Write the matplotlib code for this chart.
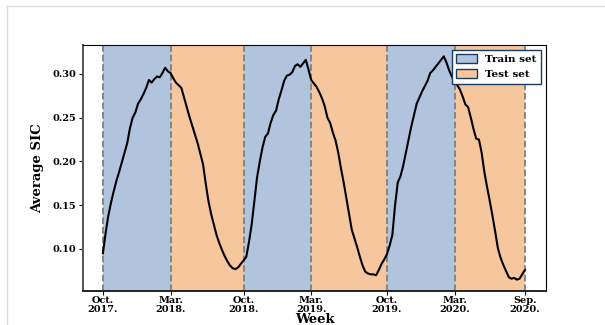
import matplotlib
matplotlib.use("Agg")
import matplotlib.pyplot as plt
from matplotlib.patches import Patch
from matplotlib.lines import Line2D

# Weekly average sea ice concentration, Oct. 2017 -> Sep. 2020
sic = [
    0.095, 0.118, 0.138, 0.153, 0.166, 0.178, 0.188, 0.199, 0.210, 0.221,
    0.238, 0.250, 0.256, 0.266, 0.271, 0.277, 0.284, 0.293, 0.290, 0.294,
    0.297, 0.296, 0.301, 0.307, 0.303, 0.301, 0.295, 0.290, 0.287, 0.284,
    0.273, 0.262, 0.251, 0.241, 0.231, 0.221, 0.209, 0.197, 0.175, 0.155,
    0.140, 0.128, 0.116, 0.107, 0.099, 0.092, 0.086, 0.081, 0.078, 0.077,
    0.079, 0.083, 0.087, 0.091, 0.108, 0.128, 0.155, 0.182, 0.200, 0.216,
    0.228, 0.232, 0.244, 0.253, 0.258, 0.271, 0.281, 0.292, 0.298, 0.299,
    0.302, 0.309, 0.311, 0.308, 0.312, 0.316, 0.305, 0.293, 0.289, 0.285,
    0.279, 0.272, 0.263, 0.250, 0.244, 0.233, 0.224, 0.210, 0.192, 0.176,
    0.158, 0.140, 0.122, 0.112, 0.102, 0.091, 0.081, 0.074, 0.072, 0.071,
    0.071, 0.070, 0.076, 0.083, 0.088, 0.094, 0.104, 0.116, 0.150, 0.176,
    0.183, 0.195, 0.210, 0.225, 0.240, 0.253, 0.266, 0.273, 0.280, 0.286,
    0.292, 0.301, 0.304, 0.308, 0.312, 0.316, 0.320, 0.313, 0.304, 0.297,
    0.292, 0.287, 0.282, 0.274, 0.265, 0.262, 0.250, 0.237, 0.226, 0.225,
    0.210, 0.188, 0.171, 0.155, 0.138, 0.120, 0.101, 0.090, 0.082, 0.075,
    0.068, 0.066, 0.067, 0.065, 0.066, 0.071, 0.076,
]
weeks = list(range(len(sic)))

# boundaries (week index) and their labels
bounds = [0, 25, 52, 77, 105, 130, 156]
bound_labels = ["Oct.\n2017.", "Mar.\n2018.", "Oct.\n2018.", "Mar.\n2019.",
                "Oct.\n2019.", "Mar.\n2020.", "Sep.\n2020."]
period_kind = ["train", "test", "train", "test", "train", "test"]

train_color = "#b0c4de"
test_color = "#f6c69d"

plt.rcParams['font.family'] = ['DejaVu Serif']
plt.rcParams['font.weight'] = 'bold'

fig = plt.figure(figsize=(6.05, 3.25), dpi=100)
ax = fig.add_axes([0.137, 0.1046, 0.7655, 0.757])

for i, kind in enumerate(period_kind):
    c = train_color if kind == "train" else test_color
    ax.axvspan(bounds[i], bounds[i + 1], color=c, lw=0, zorder=0)

for b in bounds:
    ax.axvline(b, color="gray", ls="--", lw=1.3, zorder=1)

ax.plot(weeks, sic, color="black", lw=1.5, zorder=3)

ax.set_xlim(-7.4, 163.8)
ax.set_ylim(0.052, 0.333)
ax.set_xticks(bounds)
ax.set_xticklabels(bound_labels, fontsize=7, fontweight='bold', linespacing=0.95)
ax.set_yticks([0.10, 0.15, 0.20, 0.25, 0.30])
ax.set_yticklabels(["0.10", "0.15", "0.20", "0.25", "0.30"], fontsize=7, fontweight='bold')
ax.tick_params(length=3, width=0.8, pad=2)
ax.tick_params(axis='x', pad=0.5)

ax.set_xlabel("Week", fontsize=9.5, fontweight='bold', va='top')
ax.xaxis.set_label_coords(0.5, -0.088)
ax.set_ylabel("Average SIC", fontsize=9.5, fontweight='bold', labelpad=6)

for side in ["left", "bottom"]:
    ax.spines[side].set_linewidth(1.4)
ax.spines["left"].set_color("#555555")
ax.spines["bottom"].set_color("#222222")

handles = [Patch(facecolor=train_color, edgecolor="#1f3a5f", label="Train set"),
           Patch(facecolor=test_color, edgecolor="#1f3a5f", label="Test set")]
leg = ax.legend(handles=handles, loc="upper right", prop={'weight': 'bold', 'size': 7.5},
                fancybox=False, framealpha=1, edgecolor="#1f3a5f",
                borderaxespad=0.5, handlelength=2.0, handleheight=0.9)
leg.get_frame().set_linewidth(1.0)

# thin frame lines around the figure panel
fig.add_artist(Line2D([7 / 605, 1], [1 - 6 / 325, 1 - 6 / 325], color="#dddddd", lw=1))
fig.add_artist(Line2D([7 / 605, 7 / 605], [0, 1 - 6 / 325], color="#dddddd", lw=1))

fig.savefig("out.png", dpi=100)
